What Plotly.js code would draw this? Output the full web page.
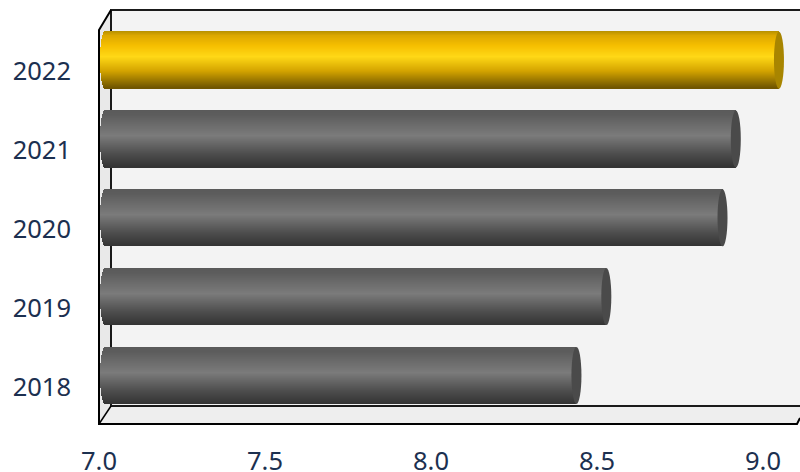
<!DOCTYPE html>
<html><head><meta charset="utf-8">
<script src="https://cdn.plot.ly/plotly-3.0.1.min.js"></script>
<style>html,body{margin:0;padding:0;background:#fff}</style></head>
<body><div id="chart" style="width:800px;height:472px"></div>
<script>
var categories = ['2018','2019','2020','2021','2022'];
var values = [8.42, 8.51, 8.86, 8.90, 9.03];
var tickValues = [7.0, 7.5, 8.0, 8.5, 9.0];
var tickLabels = ['7.0','7.5','8.0','8.5','9.0'];
var highlighted = '2022';

// Layout constants, in pixels of the 800x472 window
var W=800,H=472,L=99,T=30,B=424,pxPerUnit=332,depthX=6,depthY=9.2;
var perCat=(B-T)/categories.length, barH=57/perCat, strips=57, capR=5;
function px(x){return (x-L)/(W-L);} function py(y){return (B-y)/(B-T);}
var grayStops=[[0,'#5a5a5a'],[0.08,'#5c5c5c'],[0.45,'#7b7b7b'],[0.75,'#505050'],[0.92,'#3c3c3c'],[1,'#333333']];
var goldStops=[[0,'#b69000'],[0.08,'#dca800'],[0.25,'#f5be00'],[0.45,'#ffd816'],[0.7,'#d4a400'],[0.9,'#8f6e00'],[1,'#6e5400']];
function hex(c){return [1,3,5].map(function(i){return parseInt(c.substr(i,2),16);});}
function colorAt(st,t){for(var i=1;i<st.length;i++){if(t<=st[i][0]){var f=(t-st[i-1][0])/(st[i][0]-st[i-1][0]),a=hex(st[i-1][1]),b=hex(st[i][1]);
  return 'rgb('+a.map(function(v,k){return Math.round(v+(b[k]-v)*f);}).join(',')+')';}}return st[st.length-1][1];}

var traces=[{type:'bar',orientation:'h',x:values,y:categories,base:0,xaxis:'x',yaxis:'y',marker:{color:'rgba(0,0,0,0)'},hoverinfo:'skip',showlegend:false}];
for(var s=0;s<strips;s++){
  var t=(s+0.5)/strips;              // 0 = top of cylinder, 1 = bottom
  var u=2*t-1, dx=capR*Math.sqrt(1-u*u)/pxPerUnit;
  var h=barH/strips;
  traces.push({type:'bar',orientation:'h',y:categories,
    x:values.map(function(v){return v-(7-dx);}),
    base:categories.map(function(){return 7-dx;}),
    offset:barH/2-(s+1)*h, width:h*1.3,
    xaxis:'x2',yaxis:'y2',showlegend:false,hoverinfo:'skip',
    marker:{line:{width:0},color:categories.map(function(c){return colorAt(c===highlighted?goldStops:grayStops,t);})}});
}

var shapes=[
 {type:'rect',xref:'paper',yref:'paper',x0:px(111),x1:px(800),y0:py(406),y1:py(10),fillcolor:'#f3f3f3',line:{width:0},layer:'below'},
 {type:'path',xref:'paper',yref:'paper',path:'M'+px(99)+','+py(30)+'L'+px(111)+','+py(10)+'L'+px(111)+','+py(406)+'L'+px(99)+','+py(424)+'Z',fillcolor:'#e9e9e9',line:{width:0},layer:'below'},
 {type:'path',xref:'paper',yref:'paper',path:'M'+px(99)+','+py(424)+'L'+px(111)+','+py(406)+'L'+px(800)+','+py(406)+'L'+px(800)+','+py(418)+'L'+px(797)+','+py(424)+'Z',fillcolor:'#eeeeee',line:{width:0},layer:'below'},
 {type:'path',xref:'paper',yref:'paper',path:'M'+px(800)+','+py(10)+'L'+px(111)+','+py(10)+'L'+px(111)+','+py(406)+'L'+px(800)+','+py(406),line:{color:'#1a1a1a',width:2},layer:'below'},
 {type:'path',xref:'paper',yref:'paper',path:'M'+px(111)+','+py(10)+'L'+px(99)+','+py(30)+'L'+px(99)+','+py(424)+'L'+px(797)+','+py(424)+'L'+px(800)+','+py(418),line:{color:'#000000',width:2},layer:'below'},
 {type:'path',xref:'paper',yref:'paper',path:'M'+px(99)+','+py(424)+'L'+px(111)+','+py(406),line:{color:'#000000',width:1.5},layer:'below'}
];
categories.forEach(function(c,i){
  shapes.push({type:'circle',xref:'x2',yref:'y2',xsizemode:'pixel',xanchor:values[i],x0:-capR,x1:capR,
    y0:i-barH/2,y1:i+barH/2,fillcolor:c===highlighted?'#a88500':'#4a4a4a',line:{width:0},layer:'above'});
});

var font={family:'"Noto Sans", sans-serif',size:25.5,color:'#1c3050'};
var x0=7, xr=(W-L)/pxPerUnit, sx=depthX/pxPerUnit, sy=depthY/perCat;
var layout={width:W,height:H,margin:{l:L,r:0,t:T,b:H-B,pad:0},paper_bgcolor:'#ffffff',plot_bgcolor:'rgba(0,0,0,0)',
  barmode:'overlay',showlegend:false,bargap:0,
  font:font,
  xaxis:{range:[x0,x0+xr],tickmode:'array',tickvals:tickValues,ticktext:tickLabels,showgrid:false,zeroline:false,showline:false,ticks:'',ticklabelstandoff:19,tickfont:font},
  yaxis:{type:'category',categoryorder:'array',categoryarray:categories,range:[-0.5,4.5],showgrid:false,zeroline:false,showline:false,ticks:'',ticklabelstandoff:27,ticklabelshift:2,tickfont:font},
  xaxis2:{overlaying:'x',anchor:'y2',range:[x0-sx,x0-sx+xr],visible:false},
  yaxis2:{overlaying:'y',anchor:'x2',type:'category',categoryorder:'array',categoryarray:categories,range:[-0.5-sy,4.5-sy],visible:false},
  shapes:shapes};
Plotly.newPlot('chart',traces,layout,{displayModeBar:false,staticPlot:true});
</script></body></html>
